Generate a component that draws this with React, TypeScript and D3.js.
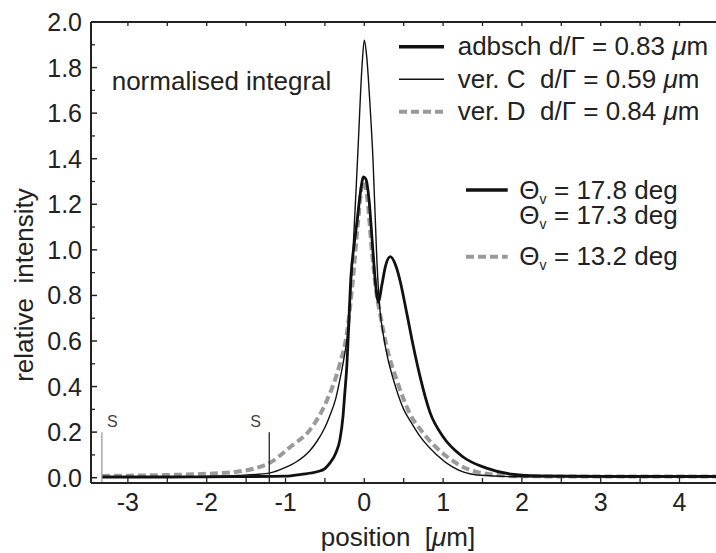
import React from "react";
import * as d3 from "d3";

// ---- data ----
const adbschX = [-3.33, -2.5, -2, -1.5, -1.0, -0.8, -0.6, -0.5, -0.44, -0.36, -0.31, -0.27, -0.25, -0.22, -0.2, -0.17, -0.13, -0.09, -0.05, -0.01, 0.02, 0.06, 0.1, 0.14, 0.18, 0.22, 0.27, 0.33, 0.4, 0.45, 0.54, 0.62, 0.71, 0.83, 1.0, 1.25, 1.55, 1.9, 2.2, 3.0, 4.5];
const adbschY = [0.003, 0.003, 0.004, 0.005, 0.007, 0.015, 0.026, 0.04, 0.063, 0.11, 0.166, 0.27, 0.36, 0.5, 0.65, 0.88, 1.02, 1.13, 1.25, 1.32, 1.31, 1.22, 1.04, 0.86, 0.77, 0.84, 0.93, 0.97, 0.93, 0.87, 0.72, 0.58, 0.44, 0.29, 0.18, 0.092, 0.042, 0.014, 0.008, 0.006, 0.006];

const verCX = [-3.33, -2.5, -2, -1.6, -1.21, -1.0, -0.86, -0.7, -0.6, -0.5, -0.44, -0.36, -0.31, -0.26, -0.22, -0.15, -0.08, -0.03, 0.0, 0.03, 0.07, 0.11, 0.16, 0.2, 0.24, 0.3, 0.37, 0.5, 0.6, 0.71, 0.92, 1.13, 1.43, 2.0, 4.5];
const verCY = [0.003, 0.004, 0.006, 0.01, 0.02, 0.045, 0.07, 0.115, 0.16, 0.22, 0.27, 0.35, 0.43, 0.52, 0.61, 0.95, 1.44, 1.8, 1.92, 1.85, 1.65, 1.4, 0.95, 0.73, 0.63, 0.52, 0.43, 0.3, 0.24, 0.18, 0.1, 0.045, 0.012, 0.004, 0.003];

const verDX = [-3.33, -3.0, -2.5, -2.0, -1.62, -1.4, -1.21, -0.94, -0.69, -0.48, -0.31, -0.22, -0.15, -0.08, -0.03, 0.0, 0.04, 0.1, 0.15, 0.2, 0.28, 0.41, 0.58, 0.75, 1.05, 1.34, 1.68, 2.0, 4.5];
const verDY = [0.008, 0.009, 0.012, 0.017, 0.026, 0.04, 0.063, 0.135, 0.21, 0.335, 0.5, 0.636, 0.85, 1.12, 1.28, 1.3, 1.22, 0.98, 0.82, 0.72, 0.58, 0.43, 0.28, 0.195, 0.092, 0.034, 0.012, 0.006, 0.005];

const xTicks = [-3, -2, -1, 0, 1, 2, 3, 4];
const xMinorTicks = [-3, -2.5, -2, -1.5, -1, -0.5, 0, 0.5, 1, 1.5, 2, 2.5, 3, 3.5, 4];
const yTicks = [0, 0.2, 0.4, 0.6, 0.8, 1.0, 1.2, 1.4, 1.6, 1.8, 2.0];
const yMinorTicks = [0.1, 0.3, 0.5, 0.7, 0.9, 1.1, 1.3, 1.5, 1.7, 1.9];
const sMarkers = [-3.33, -1.206];
const sMarkerHeight = 0.2;

const legendA = ["adbsch d/\u0393 = 0.83 ", "ver. C  d/\u0393 = 0.59 ", "ver. D  d/\u0393 = 0.84 "];
const legendB = ["17.8", "17.3", "13.2"];

const FONT = "'Liberation Sans', Arial, Helvetica, sans-serif";
const GREY = "#9a9a9a";

export default function App() {
  const left = 91, top = 22, bottom = 483, right = 718;
  const x = d3.scaleLinear().domain([0, 1]).range([364.3, 443.1]);
  const y = d3.scaleLinear().domain([0, 2]).range([477.7, 22]);

  const mk = (xs: number[], ys: number[]) =>
    d3.line<number>().x((_, i) => x(xs[i])).y((_, i) => y(ys[i])).curve(d3.curveMonotoneX)(xs) || "";

  const fs = 25;
  const ft = 26;

  return (
    <svg width={716} height={553} style={{ position: "absolute", left: 0, top: 0, background: "#fff" }} fontFamily={FONT}>
      <rect x={0} y={0} width={716} height={553} fill="#fff" />
      {/* curves */}
      <path d={mk(verDX, verDY)} fill="none" stroke={GREY} strokeWidth={4} strokeDasharray="8,4" />
      <path d={mk(verCX, verCY)} fill="none" stroke="#111" strokeWidth={1.4} />
      <path d={mk(adbschX, adbschY)} fill="none" stroke="#111" strokeWidth={2.8} />

      {/* S markers */}
      {sMarkers.map((v, i) => (
        <line key={"s" + i} x1={x(v)} x2={x(v)} y1={bottom} y2={y(sMarkerHeight)} stroke={i === 0 ? GREY : "#222"} strokeWidth={1.3} />
      ))}
      <text x={x(sMarkers[0]) + 5} y={426.7} fontSize={16} fill="#444">S</text>
      <text x={x(sMarkers[1]) - 19} y={426.7} fontSize={16} fill="#444">S</text>

      {/* frame */}
      <line x1={left} x2={left} y1={top} y2={bottom} stroke="#222" strokeWidth={2} />
      <line x1={left} x2={right} y1={top} y2={top} stroke="#222" strokeWidth={2} />
      <line x1={left} x2={right} y1={bottom} y2={bottom} stroke="#222" strokeWidth={2.2} />

      {/* y ticks */}
      {yTicks.map((t) => (
        <g key={"y" + t}>
          <line x1={left} x2={left + 6} y1={y(t)} y2={y(t)} stroke="#222" strokeWidth={1.5} />
          <text x={82} y={y(t) + 9} fontSize={fs} textAnchor="end" fill="#222">{t.toFixed(1)}</text>
        </g>
      ))}
      {yMinorTicks.map((t) => (
        <line key={"ym" + t} x1={left} x2={left + 4} y1={y(t)} y2={y(t)} stroke="#222" strokeWidth={1.3} />
      ))}
      {/* x ticks */}
      {xMinorTicks.map((t) => (
        <g key={"x" + t}>
          <line x1={x(t)} x2={x(t)} y1={top} y2={top + 4} stroke="#222" strokeWidth={1.3} />
          <line x1={x(t)} x2={x(t)} y1={bottom} y2={bottom - 5} stroke="#222" strokeWidth={1.3} />
        </g>
      ))}
      {xTicks.map((t) => (
        <text key={"xl" + t} x={x(t)} y={511} fontSize={fs} textAnchor="middle" fill="#222">{t}</text>
      ))}

      {/* axis titles */}
      <text x={398} y={546} fontSize={ft} textAnchor="middle" fill="#222" style={{ whiteSpace: "pre" }}>position  [<tspan fontStyle="italic">μ</tspan>m]</text>
      <text transform="translate(33,285) rotate(-90)" fontSize={ft} textAnchor="middle" fill="#222" style={{ whiteSpace: "pre" }}>relative  intensity</text>

      {/* annotation */}
      <text x={111.7} y={90} fontSize={ft} fill="#222">normalised integral</text>

      {/* legend A */}
      {legendA.map((s, i) => {
        const ly = [46.7, 79.3, 111.7][i];
        return (
          <g key={"la" + i}>
            <line x1={399} x2={444} y1={ly} y2={ly}
              stroke={i === 2 ? GREY : "#111"} strokeWidth={i === 0 ? 3.6 : i === 1 ? 1.6 : 4}
              strokeDasharray={i === 2 ? "8,4" : undefined} />
            <text x={457.7} y={ly + 8.5} fontSize={ft} fill="#222" style={{ whiteSpace: "pre" }}>
              {s}<tspan fontStyle="italic">μ</tspan>m
            </text>
          </g>
        );
      })}

      {/* legend B */}
      {legendB.map((s, i) => {
        const ly = [190, 215, 256.7][i];
        return (
          <g key={"lb" + i}>
            {i !== 1 && (
              <line x1={466} x2={507.7} y1={ly} y2={ly}
                stroke={i === 2 ? GREY : "#111"} strokeWidth={i === 0 ? 3.6 : 4}
                strokeDasharray={i === 2 ? "8,4" : undefined} />
            )}
            <text x={519.3} y={ly + 8.5} fontSize={ft} fill="#222">
              {"\u0398"}<tspan fontSize={14} dy={5}>v</tspan>
            </text>
            <text x={554} y={ly + 8.5} fontSize={ft} fill="#222">{"= " + s + " deg"}</text>
          </g>
        );
      })}
    </svg>
  );
}
